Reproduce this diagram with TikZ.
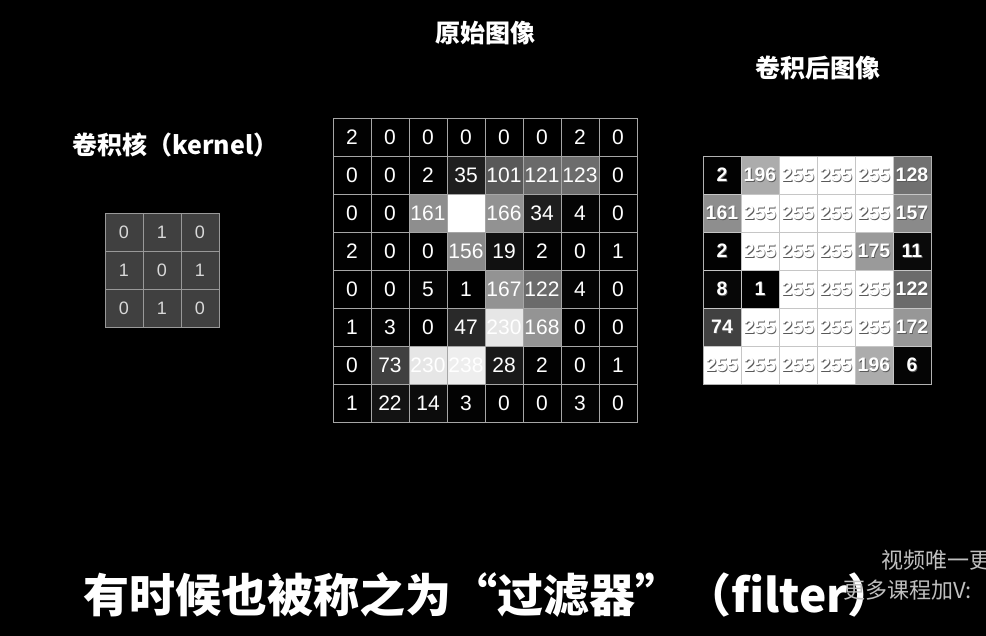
\documentclass[tikz,border=0pt]{standalone}
\usepackage{fontspec}
\usetikzlibrary{calc}
\setmainfont{Noto Sans CJK SC}
\newfontfamily\numfont{Liberation Sans}
\newcommand{\shadownum}[1]{\rlap{\kern0.8pt\raisebox{-1.2pt}{\color{black!65}#1}}#1}
\begin{document}
\begin{tikzpicture}[x=1pt,y=-1pt,
  cellbox/.style={minimum width=38pt,minimum height=38pt,inner sep=0pt,outer sep=0pt,draw=gray!70,line width=0.7pt},
  orignum/.style={text=white,font=\numfont\fontsize{21}{21}\selectfont},
  convnum/.style={text=white,font=\numfont\bfseries\fontsize{19.5}{19.5}\selectfont},
  kernbox/.style={cellbox,fill=black!75,draw=gray!80,text=white!85!black,font=\numfont\fontsize{18}{18}\selectfont},
  titletext/.style={text=white,font=\bfseries\fontsize{25}{25}\selectfont},
  subtext/.style={text=white,inner sep=0pt,font=\bfseries\fontsize{46}{46}\selectfont},
  marktext/.style={text=white!75!black,inner sep=0pt,font=\fontsize{22}{22}\selectfont}]
\fill[black] (0,0) rectangle (986,636);
\useasboundingbox (0,0) rectangle (986,636);

% titles
\node[titletext] (t-orig) at (485.5,33.5) {原始图像};
\node[titletext] (t-conv) at (818,68) {卷积后图像};
\node[titletext,anchor=west,inner sep=0pt] (t-kern) at (72,145) {卷积核（kernel）};

% kernel
\foreach \row [count=\r from 0] in {{0,1,0},{1,0,1},{0,1,0}}{
  \foreach \v [count=\c from 0] in \row {
    \node[kernbox] (k-\r-\c) at ({124+38*\c},{232+38*\r}) {\v};
  }
}

% original image
\foreach \row [count=\r from 0] in {
  {2,0,0,0,0,0,2,0},
  {0,0,2,35,101,121,123,0},
  {0,0,161,255,166,34,4,0},
  {2,0,0,156,19,2,0,1},
  {0,0,5,1,167,122,4,0},
  {1,3,0,47,230,168,0,0},
  {0,73,230,238,28,2,0,1},
  {1,22,14,3,0,0,3,0}}{
  \foreach \v [count=\c from 0] in \row {
    \pgfmathsetmacro\pct{\v>=200 ? \v/2.55 : \v/2.55*0.88}
    \node[cellbox,orignum,fill=white!\pct!black] (o-\r-\c) at ({352+38*\c},{137+38*\r}) {\ifnum\v=255\relax\else\v\fi};
  }
}

% convolved image
\foreach \row [count=\r from 0] in {
  {2,196,255,255,255,128},
  {161,255,255,255,255,157},
  {2,255,255,255,175,11},
  {8,1,255,255,255,122},
  {74,255,255,255,255,172},
  {255,255,255,255,196,6}}{
  \foreach \v [count=\c from 0] in \row {
    \pgfmathsetmacro\pct{\v>=200 ? \v/2.55 : \v/2.55*0.88}
    \node[cellbox,convnum,draw=gray!45,fill=white!\pct!black] (c-\r-\c) at ({722+38*\c},{175.5+38*\r}) {\shadownum{\v}};
  }
}
\draw[gray!60,line width=0.8pt] (c-0-0.north west) rectangle (c-5-5.south east);

% subtitle
\node[subtext,anchor=west] (sub-a) at (83,595) {有时候也被称之为“过滤器”};
\node[subtext,anchor=west] (sub-b) at (685,595) {（filter）};

% watermark
\node[marktext,anchor=west] (wm-a) at (881,560) {视频唯一更};
\node[marktext,anchor=west] (wm-b) at (843,590) {更多课程加V:};
\end{tikzpicture}
\end{document}
